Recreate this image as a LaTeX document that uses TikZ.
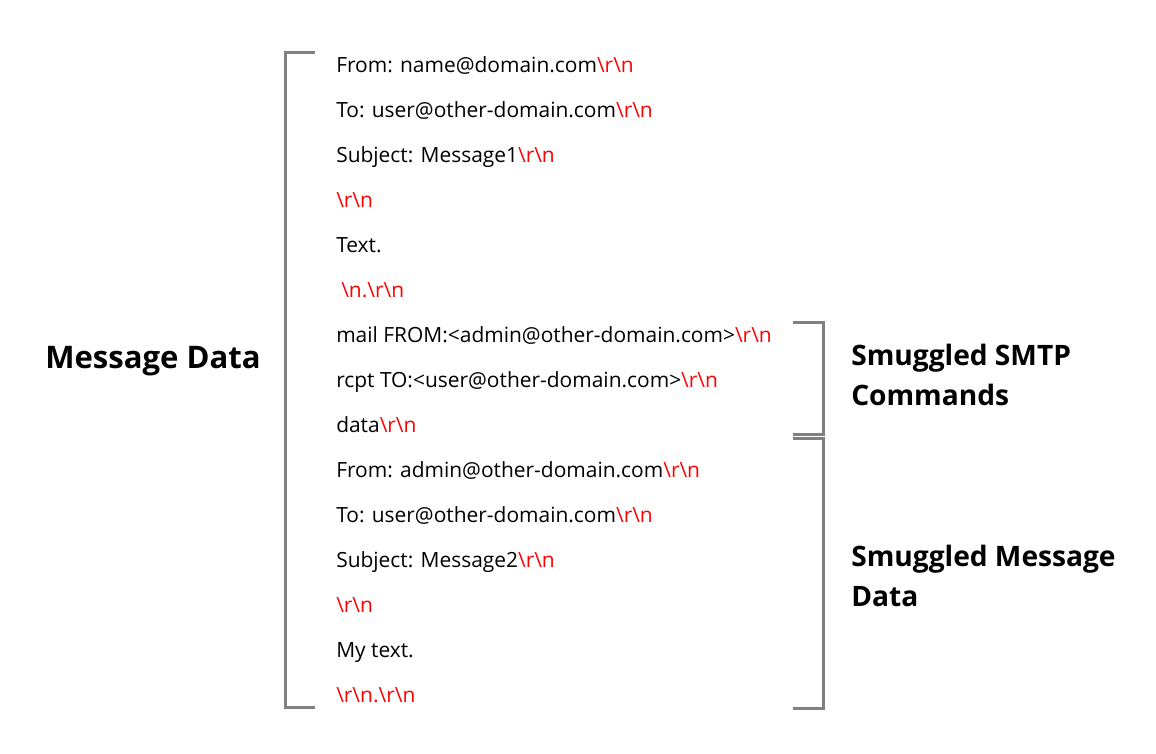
\documentclass[tikz,border=0pt]{standalone}
\usepackage{fontspec}
\setmainfont{Open Sans}
\usepackage{tikz}
\definecolor{bracketgray}{HTML}{808080}
\tikzstyle{Line}=[anchor=base west, inner sep=0pt, text=black, font=\fontsize{15.7pt}{18pt}\selectfont]
\tikzstyle{Title}=[anchor=base west, inner sep=0pt, text=black, font=\bfseries\fontsize{23.3pt}{28pt}\selectfont]
\tikzstyle{Label}=[anchor=base west, inner sep=0pt, text=black, font=\bfseries\fontsize{21.1pt}{25pt}\selectfont]
\tikzstyle{bracket}=[line width = 2.25pt, draw=bracketgray]
\newcommand{\crlf}{\textcolor{red}{\textbackslash r\textbackslash n}}
\newcommand{\redtxt}[1]{\textcolor{red}{#1}}

\begin{document}
\begin{tikzpicture}[x=0.75pt, y=-0.75pt]
	\useasboundingbox (0,0) rectangle (1156,753);

	% message lines
	\node [style=Line] (from1) at (336, 72) {From: name@domain.com\crlf};
	\node [style=Line] (to1) at (336, 117) {To: user@other-domain.com\crlf};
	\node [style=Line] (subj1) at (336, 162) {Subject: Message1\crlf};
	\node [style=Line] (blank1) at (336, 207) {\crlf};
	\node [style=Line] (text1) at (336, 252) {Text.};
	\node [style=Line] (end1) at (341, 297) {\redtxt{\textbackslash n.\textbackslash r\textbackslash n}};
	\node [style=Line] (mailfrom) at (336, 342) {mail FROM:<admin@other-domain.com>\crlf};
	\node [style=Line] (rcptto) at (336, 387) {rcpt TO:<user@other-domain.com>\crlf};
	\node [style=Line] (data) at (336, 432) {data\crlf};
	\node [style=Line] (from2) at (336, 477) {From: admin@other-domain.com\crlf};
	\node [style=Line] (to2) at (336, 522) {To: user@other-domain.com\crlf};
	\node [style=Line] (subj2) at (336, 567) {Subject: Message2\crlf};
	\node [style=Line] (blank2) at (336, 612) {\crlf};
	\node [style=Line] (text2) at (336, 657) {My text.};
	\node [style=Line] (end2) at (336, 702) {\redtxt{\textbackslash r\textbackslash n.\textbackslash r\textbackslash n}};

	% labels
	\node [style=Title] (msgdata) at (45, 368) {Message Data};
	\node [style=Label] (smtp1) at (851, 365) {Smuggled SMTP};
	\node [style=Label] (smtp2) at (851, 405) {Commands};
	\node [style=Label] (smug1) at (851, 566) {Smuggled Message};
	\node [style=Label] (smug2) at (851, 606) {Data};

	% brackets
	\draw [style=bracket] (315, 52.5) -- (285.5, 52.5) -- (285.5, 707.5) -- (315, 707.5);
	\draw [style=bracket] (793, 322.5) -- (823.5, 322.5) -- (823.5, 434) -- (793, 434);
	\draw [style=bracket] (793, 438) -- (823.5, 438) -- (823.5, 708) -- (793, 708);
\end{tikzpicture}
\end{document}
